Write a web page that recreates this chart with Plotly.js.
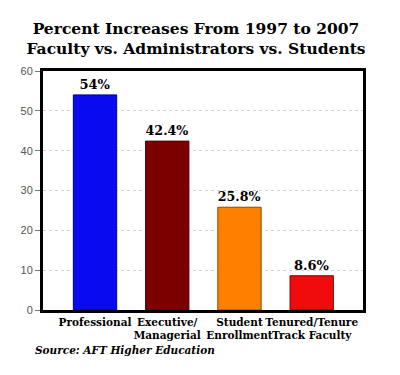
<!DOCTYPE html>
<html><head><meta charset="utf-8">
<script src="https://cdn.plot.ly/plotly-3.0.1.min.js"></script>
<style>html,body{margin:0;padding:0;background:#fff}#chart{width:400px;height:375px}</style>
</head><body><div id="chart"></div>
<script>
const categories = ["Professional", "Executive/<br>Managerial", "Student<br>Enrollment", "Tenured/Tenure<br>Track Faculty"];
const values = [54, 42.4, 25.8, 8.6];
const valueLabels = ["54%", "42.4%", "25.8%", "8.6%"];
const barColors = ["#0a0af0", "#7d0000", "#ff8000", "#f00c0c"];
const barLines = ["#00008a", "#4a0000", "#8a4a00", "#8a0000"];
const yTicks = [0, 10, 20, 30, 40, 50, 60];

const serif = "DejaVu Serif, Georgia, serif";
const trace = {
  type: "bar",
  x: [0, 1, 2, 3],
  y: values,
  width: 0.6,
  marker: {color: barColors, line: {color: barLines, width: 1}},
  text: valueLabels,
  textposition: "outside",
  cliponaxis: false,
  textfont: {family: serif, size: 13, color: "#000", weight: "bold"},
  hoverinfo: "none"
};
const layout = {
  width: 400, height: 375,
  margin: {l: 43, r: 37, t: 71, b: 65},
  paper_bgcolor: "#fff", plot_bgcolor: "#fff",
  showlegend: false,
  title: {
    text: "Percent Increases From 1997 to 2007<br>Faculty vs. Administrators vs. Students",
    font: {family: serif, size: 15.5, color: "#000", weight: "bold"},
    x: 0.49, xanchor: "center", y: 0.91, yanchor: "top"
  },
  xaxis: {
    range: [-0.72, 3.71],
    tickvals: [0, 1, 2, 3], ticktext: categories, tickangle: 0,
    tickfont: {family: serif, size: 10.5, color: "#000", weight: "bold"},
    showline: true, linecolor: "#000", linewidth: 3, mirror: true,
    showgrid: false, ticks: "", zeroline: false, fixedrange: true, automargin: false
  },
  yaxis: {
    range: [0, 60], tickvals: yTicks,
    tickfont: {family: "Liberation Sans, Arial, sans-serif", size: 11, color: "#555"},
    ticks: "outside", ticklen: 5, tickcolor: "#777", tickwidth: 1,
    showline: true, linecolor: "#000", linewidth: 3, mirror: true,
    showgrid: true, gridcolor: "#d4d4d4", griddash: "dot", gridwidth: 1,
    zeroline: false, fixedrange: true
  },
  annotations: [{
    text: "Source: AFT Higher Education",
    xref: "paper", yref: "paper", x: -0.03, y: -0.135, xanchor: "left", yanchor: "top",
    showarrow: false,
    font: {family: serif, size: 10.5, color: "#000", style: "italic", weight: "bold"}
  }]
};
Plotly.newPlot("chart", [trace], layout, {displayModeBar: false, staticPlot: true});
</script></body></html>
